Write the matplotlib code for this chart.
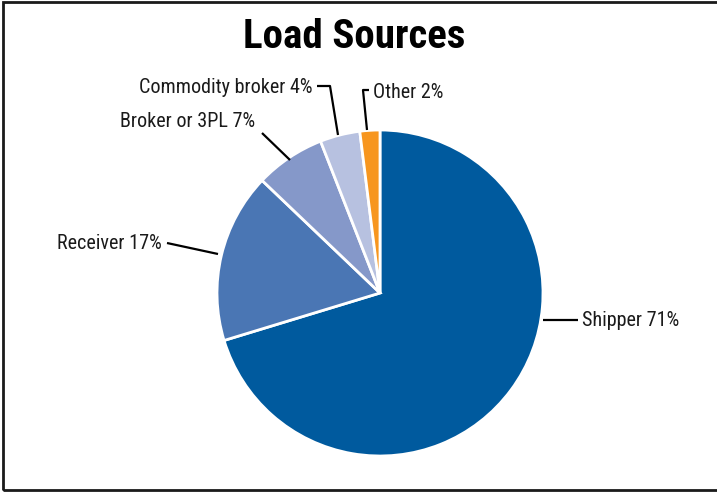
import matplotlib.pyplot as plt
from matplotlib.patches import Rectangle

# Dados do gráfico
labels = ['Shipper', 'Receiver', 'Broker or 3PL', 'Commodity broker', 'Other']
shares = [71, 17, 7, 4, 2]
colors = ['#005a9e', '#4a76b4', '#8598c9', '#b7c1e0', '#f7961f']

W, H = 717, 493
CX, CY, R = 380, 293, 163  # centro e raio da pizza em pixels


def px(x, y):
    """Converte pixels da imagem (origem no topo) para coordenadas do eixo."""
    return (x - CX) / R, (CY - y) / R


fig = plt.figure(figsize=(W / 100, H / 100), dpi=100)
ax = fig.add_axes([0, 0, 1, 1])

ax.pie(shares, colors=colors, startangle=90, counterclock=False,
       wedgeprops=dict(edgecolor='white', linewidth=2), radius=1, center=(0, 0))
ax.set_aspect('auto')
ax.set_xlim(-CX / R, (W - CX) / R)
ax.set_ylim(-(H - CY) / R, CY / R)
ax.axis('off')

font = ['Roboto Condensed', 'Archivo Narrow', 'Liberation Sans', 'DejaVu Sans']
lw = 1.6

# Linhas de chamada e rótulos (posições)
leaders = [
    ([(543, 320), (578, 320)], (582, 321), 'left'),
    ([(218, 254), (167, 243)], (162, 244), 'right'),
    ([(290, 160), (262, 133)], (255, 122), 'right'),
    ([(338, 135), (330, 86), (317, 86)], (313, 88), 'right'),
    ([(367, 130), (363, 90), (369, 90)], (373, 93), 'left'),
]
for (pts, tpos, ha), name, val in zip(leaders, labels, shares):
    xs, ys = zip(*[px(*p) for p in pts])
    ax.plot(xs, ys, color='black', lw=lw, solid_capstyle='butt')
    ax.text(*px(*tpos), f'{name} {val}%', ha=ha, va='center',
            fontsize=14.5, family=font, color='#1a1a1a')

fig.text(354 / W, 1 - 37 / H, 'Load Sources', ha='center', va='center',
         fontsize=29.5, fontweight='bold', family=font)

fig.patches.append(Rectangle((3 / W, 3 / H), 1, 1 - 5 / H, transform=fig.transFigure,
                             fill=False, edgecolor='#1a1a1a', linewidth=2))

fig.savefig('out.png', dpi=100)
